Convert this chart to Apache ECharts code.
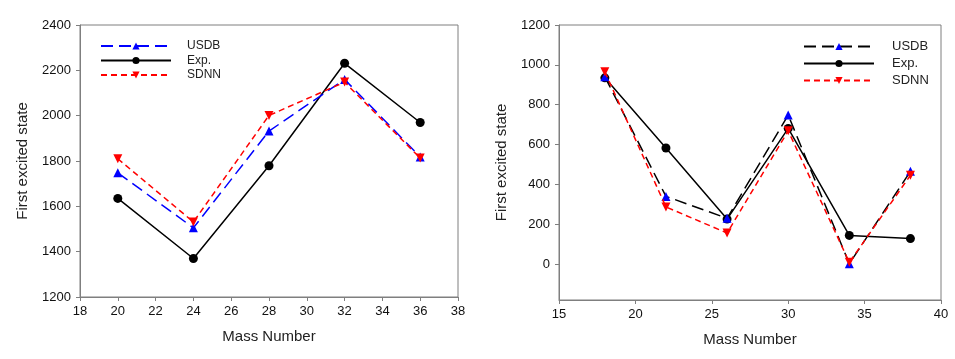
<!DOCTYPE html>
<html>
<head>
<meta charset="utf-8">
<script src="https://cdn.jsdelivr.net/npm/echarts@6/dist/echarts.min.js"></script>
<style>
  html, body { margin: 0; padding: 0; background: #fff; }
  #chart { width: 955px; height: 359px; }
</style>
</head>
<body>
<div id="chart"></div>
<script>
// left panel
var massLeft = [20, 24, 28, 32, 36];
var usdbLeft = [1748, 1505, 1932, 2160, 1818];
var expLeft = [1635, 1370, 1779, 2231, 1970];
var sdnnLeft = [1810, 1531, 2001, 2148, 1813];

// right panel
var massRight = [18, 22, 26, 30, 34, 38];
var usdbRight = [940, 340, 230, 748, 2, 466];
var expRight = [935, 583, 226, 681, 144, 128];
var sdnnRight = [965, 287, 156, 669, 9, 446];

var yTicksRight = [0, 200, 400, 600, 800, 1000, 1200];

function pairs(xs, ys) {
  return xs.map(function (x, i) { return [x, ys[i]]; });
}

var font = 'Liberation Sans, Arial, sans-serif';
var axisGrey = '#7f7f7f';
var plain = function (v) { return String(v); };

function xAxisOpt(idx, min, max, interval) {
  return {
    type: 'value', gridIndex: idx, min: min, max: max, interval: interval,
    name: 'Mass Number', nameLocation: 'middle', nameGap: 32,
    nameTextStyle: { fontFamily: font, fontSize: 15, color: '#222' },
    axisLine: { onZero: false, lineStyle: { color: axisGrey } },
    axisTick: { length: 4, lineStyle: { color: axisGrey } },
    axisLabel: { fontFamily: font, fontSize: 13, color: '#111', margin: 8, formatter: plain },
    splitLine: { show: false }
  };
}

function yAxisOpt(idx, min, max, interval) {
  return {
    type: 'value', gridIndex: idx, min: min, max: max, interval: interval,
    name: 'First excited state', nameLocation: 'middle', nameGap: 50,
    nameTextStyle: { fontFamily: font, fontSize: 15, color: '#222' },
    axisLine: { show: true, onZero: false, lineStyle: { color: axisGrey } },
    axisTick: { show: true, length: 4, lineStyle: { color: axisGrey } },
    axisLabel: { fontFamily: font, fontSize: 13, color: '#111', margin: 9, formatter: plain },
    splitLine: { show: false }
  };
}

var yRight = yAxisOpt(1, -180, 1200, 200);
yRight.axisLabel.customValues = yTicksRight;
yRight.axisTick.customValues = yTicksRight;

var downTri = 'path://M0,0 L10,0 L5,9 Z';

function line(name, idx, data, color, lineColor, dash, symbol, size, z) {
  return {
    name: name, type: 'line', xAxisIndex: idx, yAxisIndex: idx,
    data: data, symbol: symbol, symbolSize: size, z: z,
    itemStyle: { color: color },
    lineStyle: { color: lineColor, width: 1.5, type: dash },
    animation: false
  };
}

var chart = echarts.init(document.getElementById('chart'));
chart.setOption({
  backgroundColor: '#fff',
  grid: [
    { left: 80, right: 497, top: 25, bottom: 62, show: true, borderColor: axisGrey, borderWidth: 1 },
    { left: 559, right: 14, top: 25, bottom: 59, show: true, borderColor: axisGrey, borderWidth: 1 }
  ],
  legend: [
    {
      left: 100, top: 40, orient: 'vertical', padding: 0, itemWidth: 70, itemHeight: 9, itemGap: 2.5,
      textStyle: { fontFamily: font, fontSize: 12, color: '#222', padding: [0, 0, 0, 11] },
      data: ['USDB', 'Exp.', 'SDNN']
    },
    {
      left: 803, top: 40, orient: 'vertical', padding: 0, itemWidth: 70, itemHeight: 9, itemGap: 4,
      textStyle: { fontFamily: font, fontSize: 13, color: '#222', padding: [0, 0, 0, 13] },
      data: ['USDB ', 'Exp. ', 'SDNN ']
    }
  ],
  xAxis: [xAxisOpt(0, 18, 38, 2), xAxisOpt(1, 15, 40, 5)],
  yAxis: [yAxisOpt(0, 1200, 2400, 200), yRight],
  series: [
    line('USDB', 0, pairs(massLeft, usdbLeft), '#0000ff', '#0000ff', [12, 6], 'triangle', 9, 3),
    line('Exp.', 0, pairs(massLeft, expLeft), '#000', '#000', 'solid', 'circle', 9, 2),
    line('SDNN', 0, pairs(massLeft, sdnnLeft), '#ff0000', '#ff0000', [6, 4], downTri, 9, 4),
    line('USDB ', 1, pairs(massRight, usdbRight), '#0000ff', '#000', [12, 6], 'triangle', 9, 3),
    line('Exp. ', 1, pairs(massRight, expRight), '#000', '#000', 'solid', 'circle', 9, 2),
    line('SDNN ', 1, pairs(massRight, sdnnRight), '#ff0000', '#ff0000', [6, 4], downTri, 9, 4)
  ]
});
</script>
</body>
</html>
